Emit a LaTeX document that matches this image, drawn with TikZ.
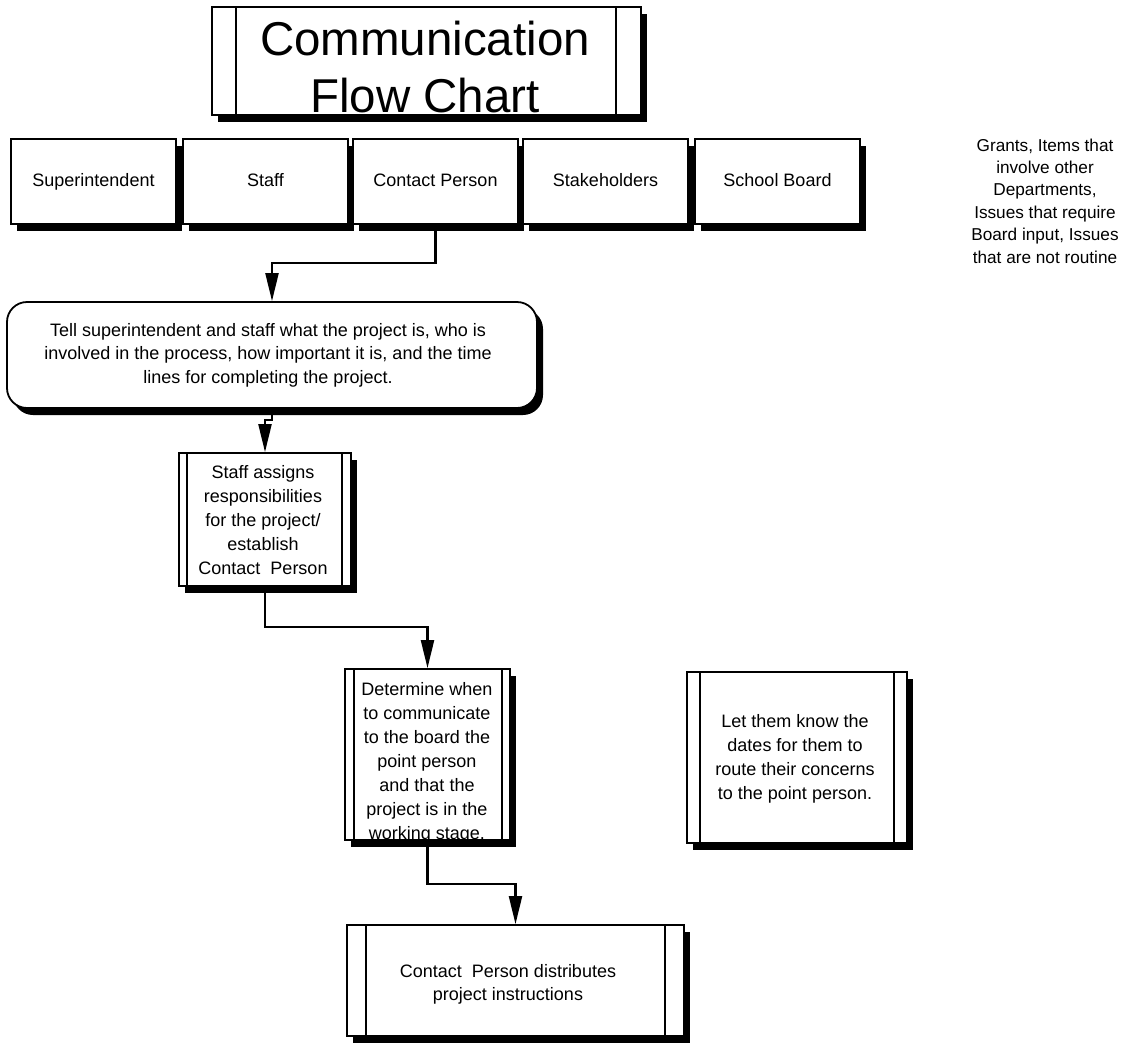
\documentclass[tikz,border=0pt]{standalone}
\usepackage{fontspec}
\setmainfont{Liberation Sans}
\usetikzlibrary{shadows,arrows.meta}
\begin{document}
\begin{tikzpicture}[x=1pt,y=-1pt,
  box/.style={draw, line width=1.8pt, fill=white, rectangle, inner sep=0pt,
    drop shadow={shadow xshift=6pt, shadow yshift=-7pt, fill=black, opacity=1}},
  body/.style={font=\fontsize{18}{24}\selectfont, align=center, inner sep=0pt},
  party/.style={box, body, minimum width=165pt, minimum height=85pt, text height=13pt, text depth=4pt},
  txt/.style={body, anchor=base},
  bar/.style={line width=1.8pt},
  conn/.style={line width=2.2pt, -{Triangle[length=28pt,width=13pt]}},
]
\useasboundingbox (0,0) rectangle (1132,1044);

% title block
\node[box, minimum width=429pt, minimum height=108pt] (title) at (426.5,61) {};
\draw[bar] ([xshift=25pt]title.north west) -- ([xshift=25pt]title.south west);
\draw[bar] ([xshift=-26pt]title.north east) -- ([xshift=-26pt]title.south east);
\node[anchor=base, inner sep=0pt, align=center, font=\fontsize{47.5}{57}\selectfont]
  (titletext) at (425,112) {Communication\\Flow Chart};

% top row of parties
\node[party] (sup) at (93.5,181.5) {Superintendent};
\node[party] (staff) at (265.5,181.5) {Staff};
\node[party] (contact) at (435.5,181.5) {Contact Person};
\node[party] (stake) at (605.5,181.5) {Stakeholders};
\node[party] (board) at (777.5,181.5) {School Board};

% side note
\node[anchor=base, inner sep=0pt, align=center, font=\fontsize{17.2}{22.4}\selectfont] (note) at (1045,263)
  {Grants, Items that\\involve other\\Departments,\\Issues that require\\Board input, Issues\\that are not routine};

% briefing step
\node[box, rounded corners=20pt, minimum width=530pt, minimum height=106pt] (tell) at (272,355) {};
\node[txt, font=\fontsize{18}{23.5}\selectfont] (telltext) at (268,383)
  {Tell superintendent and staff what the project is, who is\\involved in the process, how important it is, and the time\\lines for completing the project.};

% staff assignment step
\node[box, minimum width=172pt, minimum height=133pt] (assign) at (265,519.5) {};
\draw[bar] ([xshift=9pt]assign.north west) -- ([xshift=9pt]assign.south west);
\draw[bar] ([xshift=-10pt]assign.north east) -- ([xshift=-10pt]assign.south east);
\node[txt] (assigntext) at (263,574)
  {Staff assigns\\responsibilities\\for the project/\\establish\\Contact\ \ Person};

% board timing step
\node[box, minimum width=165pt, minimum height=171pt] (det) at (427.5,754.5) {};
\draw[bar] ([xshift=10pt]det.north west) -- ([xshift=10pt]det.south west);
\draw[bar] ([xshift=-9pt]det.north east) -- ([xshift=-9pt]det.south east);
\node[txt] (dettext) at (427,839)
  {Determine when\\to communicate\\to the board the\\point person\\and that the\\project is in the\\working stage.};

% stakeholder notice
\node[box, minimum width=220pt, minimum height=171pt] (let) at (797,757.5) {};
\draw[bar] ([xshift=14pt]let.north west) -- ([xshift=14pt]let.south west);
\draw[bar] ([xshift=-14pt]let.north east) -- ([xshift=-14pt]let.south east);
\node[txt, font=\fontsize{18}{23.7}\selectfont] (lettext) at (795,799)
  {Let them know the\\dates for them to\\route their concerns\\to the point person.};

% distribution step
\node[box, minimum width=337pt, minimum height=111pt] (dist) at (515.5,980.5) {};
\draw[bar] ([xshift=20pt]dist.north west) -- ([xshift=20pt]dist.south west);
\draw[bar] ([xshift=-20pt]dist.north east) -- ([xshift=-20pt]dist.south east);
\node[txt, font=\fontsize{18}{23}\selectfont] (disttext) at (508,1000)
  {Contact\ \ Person distributes\\project instructions};

% connectors
\draw[conn] (contact.south) -- ++(0,38) -| (tell.north);
\draw[conn] (tell.south) -- ++(0,11) -| (assign.north);
\draw[conn] (assign.south) -- ++(0,40) -| (det.north);
\draw[conn] (det.south) -- ++(0,43) -| (dist.north);
\end{tikzpicture}
\end{document}
